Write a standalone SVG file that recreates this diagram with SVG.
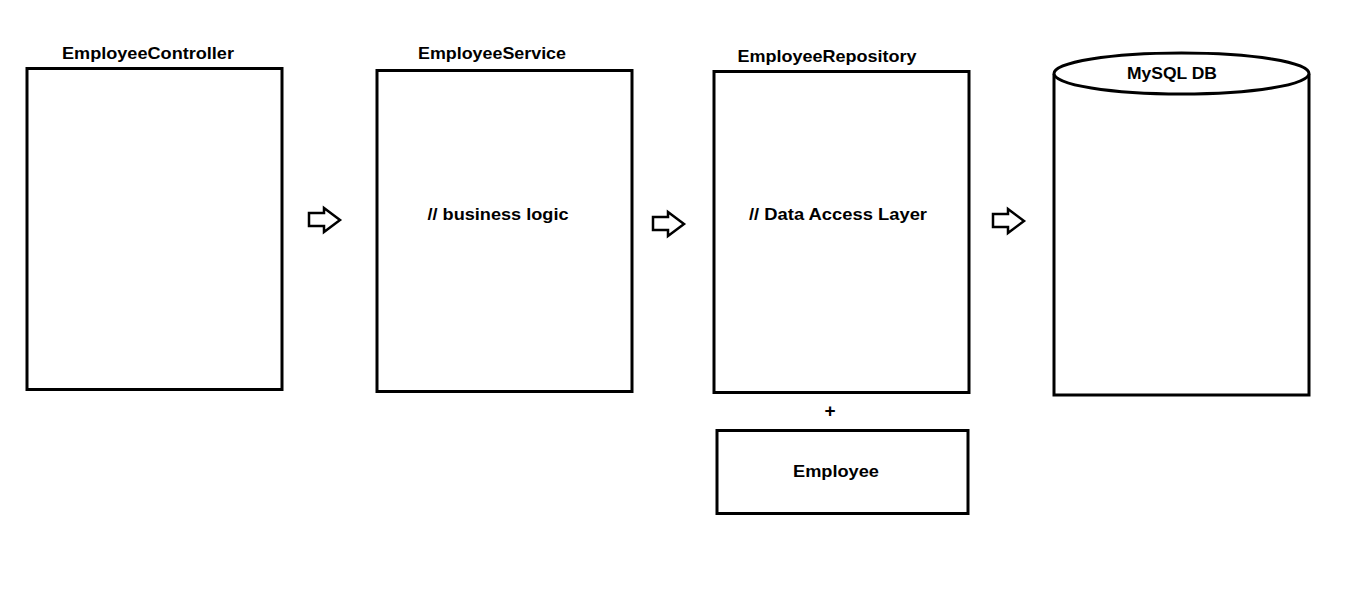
<svg xmlns="http://www.w3.org/2000/svg" width="1360" height="594" viewBox="0 0 1360 594">
<style>
.box{fill:#fff;stroke:#000;stroke-width:3}
.arr{fill:#fff;stroke:#000;stroke-width:2.5;stroke-linejoin:miter}
text{font-family:"Liberation Sans",Arial,sans-serif;font-weight:bold;font-size:16.5px;fill:#000;text-anchor:middle;dominant-baseline:central}
</style>
<rect width="1360" height="594" fill="#fff"/>
<g id="controller">
<text x="148" y="53" textLength="172" lengthAdjust="spacingAndGlyphs">EmployeeController</text>
<rect class="box" x="27" y="68.5" width="255" height="321"/>
</g>
<g id="service">
<text x="492" y="53" textLength="148" lengthAdjust="spacingAndGlyphs">EmployeeService</text>
<rect class="box" x="377" y="70.5" width="255" height="321"/>
<text x="498" y="214" textLength="141" lengthAdjust="spacingAndGlyphs">// business logic</text>
</g>
<g id="repository">
<text x="827" y="56" textLength="179" lengthAdjust="spacingAndGlyphs">EmployeeRepository</text>
<rect class="box" x="714" y="71.5" width="255" height="321"/>
<text x="838" y="214" textLength="178" lengthAdjust="spacingAndGlyphs">// Data Access Layer</text>
</g>
<g id="plus">
<text x="830" y="410" style="font-size:19px">+</text>
</g>
<g id="employee">
<rect class="box" x="717" y="430.5" width="251" height="83"/>
<text x="836" y="471" textLength="86" lengthAdjust="spacingAndGlyphs">Employee</text>
</g>
<g id="mysql">
<path class="box" d="M1054 74 V395 H1309 V74"/>
<ellipse class="box" cx="1181.5" cy="73.5" rx="127.5" ry="20.5"/>
<text x="1172" y="73" textLength="90" lengthAdjust="spacingAndGlyphs">MySQL DB</text>
</g>
<g id="connectors">
<path class="arr" d="M309 213 H324 V208 L340 220 L324 232 V226 H309 Z"/>
<path class="arr" d="M653 217 H668 V212 L684 224 L668 236 V230 H653 Z"/>
<path class="arr" d="M993 214 H1008 V209 L1024 221 L1008 233 V227 H993 Z"/>
</g>
</svg>
